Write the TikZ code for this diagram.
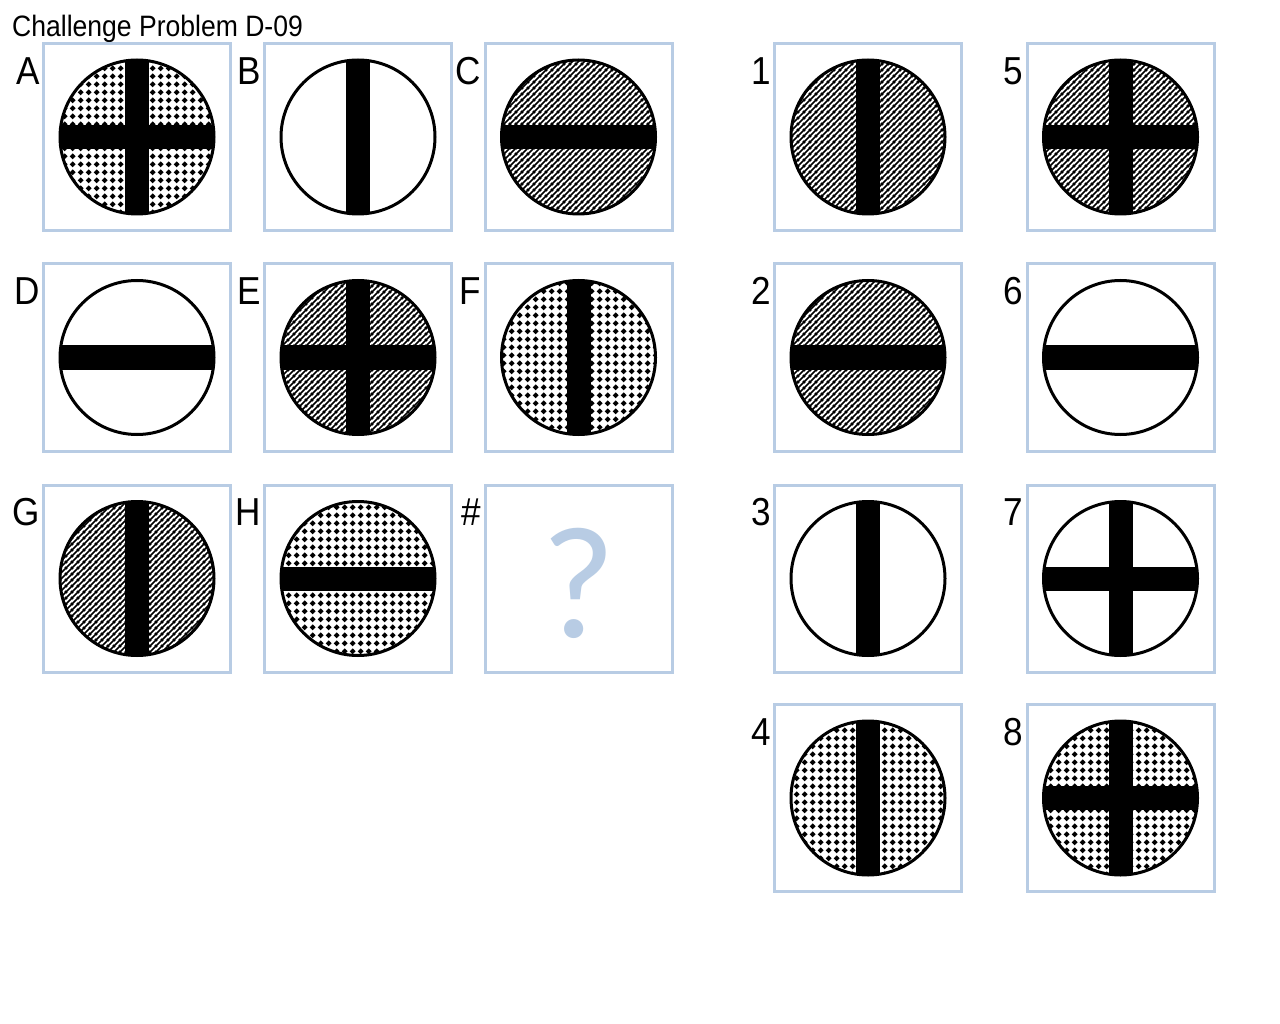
\documentclass[tikz,border=0pt]{standalone}
\usepackage{fontspec}
\setmainfont{Liberation Sans}[FakeStretch=0.9]
\newfontfamily\carlito{Carlito}
\usetikzlibrary{patterns}
\definecolor{boxblue}{RGB}{184,204,228}
\pgfdeclarepatternformonly{diamonds}{\pgfqpoint{0pt}{0pt}}{\pgfqpoint{7.7pt}{7.7pt}}{\pgfqpoint{7.7pt}{7.7pt}}{%
  \pgfpathmoveto{\pgfqpoint{3.85pt}{0.75pt}}%
  \pgfpathlineto{\pgfqpoint{6.95pt}{3.85pt}}%
  \pgfpathlineto{\pgfqpoint{3.85pt}{6.95pt}}%
  \pgfpathlineto{\pgfqpoint{0.75pt}{3.85pt}}%
  \pgfpathclose
  \pgfusepath{fill}}
\pgfdeclarepatternformonly{hatchlines}{\pgfqpoint{0pt}{0pt}}{\pgfqpoint{6pt}{6pt}}{\pgfqpoint{6pt}{6pt}}{%
  \pgfsetlinewidth{1.9pt}%
  \pgfpathmoveto{\pgfqpoint{-3pt}{-3pt}}\pgfpathlineto{\pgfqpoint{9pt}{9pt}}%
  \pgfpathmoveto{\pgfqpoint{-3pt}{3pt}}\pgfpathlineto{\pgfqpoint{3pt}{9pt}}%
  \pgfpathmoveto{\pgfqpoint{3pt}{-3pt}}\pgfpathlineto{\pgfqpoint{9pt}{3pt}}%
  \pgfusepath{stroke}}
\tikzset{
  box/.style={draw=boxblue, line width=3pt, minimum size=187pt, inner sep=0pt, rectangle},
  disc/.style={circle, inner sep=0pt, minimum size=154pt},
  dots/.style={pattern=diamonds},
  hatch/.style={pattern=hatchlines},
  plain/.style={fill=white},
  lbl/.style={anchor=north east, inner sep=0pt, font=\fontsize{39}{39}\selectfont},
  rim/.style={draw=black, line width=3pt}
}
\newcommand\vb{\fill ([xshift=-12pt,yshift=-80pt]\cur.center) rectangle ([xshift=12pt,yshift=80pt]\cur.center);}
\newcommand\hb{\fill ([xshift=-80pt,yshift=-12pt]\cur.center) rectangle ([xshift=80pt,yshift=12pt]\cur.center);}
\newcommand\cell[6]{%
  \node[box] (box#1) at (#2,#3) {};
  \node[lbl] (lab#1) at ([xshift=-2pt,yshift=-15pt]box#1.north west) {#4};
  \node[disc,#5] (disc#1) at (#2,#3) {};
  \def\cur{disc#1}%
  \begin{scope}
    \clip (disc#1.center) circle (77);
    #6
  \end{scope}
  \draw[rim] (disc#1.center) circle (77);
}
\begin{document}
\begin{tikzpicture}[x=1pt,y=-1pt]
\useasboundingbox (0,0) rectangle (1280,1024);
\fill[white] (0,0) rectangle (1280,1024);
\node[anchor=base west, inner sep=0pt, font=\fontsize{29.5}{29.5}\selectfont] (title) at (12,37) {Challenge Problem D-09};
% left matrix
\cell{A}{137}{137}{A}{dots}{\vb\hb}
\cell{B}{358}{137}{B}{plain}{\vb}
\cell{C}{578.5}{137}{C}{hatch}{\hb}
\cell{D}{137}{357.5}{D}{plain}{\hb}
\cell{E}{358}{357.5}{E}{hatch}{\vb\hb}
\cell{F}{578.5}{357.5}{F}{dots}{\vb}
\cell{G}{137}{578.5}{G}{hatch}{\vb}
\cell{H}{358}{578.5}{H}{dots}{\hb}
\node[box] (boxQ) at (578.5,578.5) {};
\node[lbl] (labQ) at ([xshift=-2pt,yshift=-15pt]boxQ.north west) {\#};
\node[font=\carlito\fontsize{160}{160}\selectfont, text=boxblue, anchor=base, inner sep=0pt] (q) at (579,637) {?};
% answers
\cell{1}{868}{137}{1}{hatch}{\vb}
\cell{2}{868}{357.5}{2}{hatch}{\hb}
\cell{3}{868}{578.5}{3}{plain}{\vb}
\cell{4}{868}{798}{4}{dots}{\vb}
\cell{5}{1120.5}{137}{5}{hatch}{\vb\hb}
\cell{6}{1120.5}{357.5}{6}{plain}{\hb}
\cell{7}{1120.5}{578.5}{7}{plain}{\vb\hb}
\cell{8}{1120.5}{798}{8}{dots}{\vb\hb}
\end{tikzpicture}
\end{document}
